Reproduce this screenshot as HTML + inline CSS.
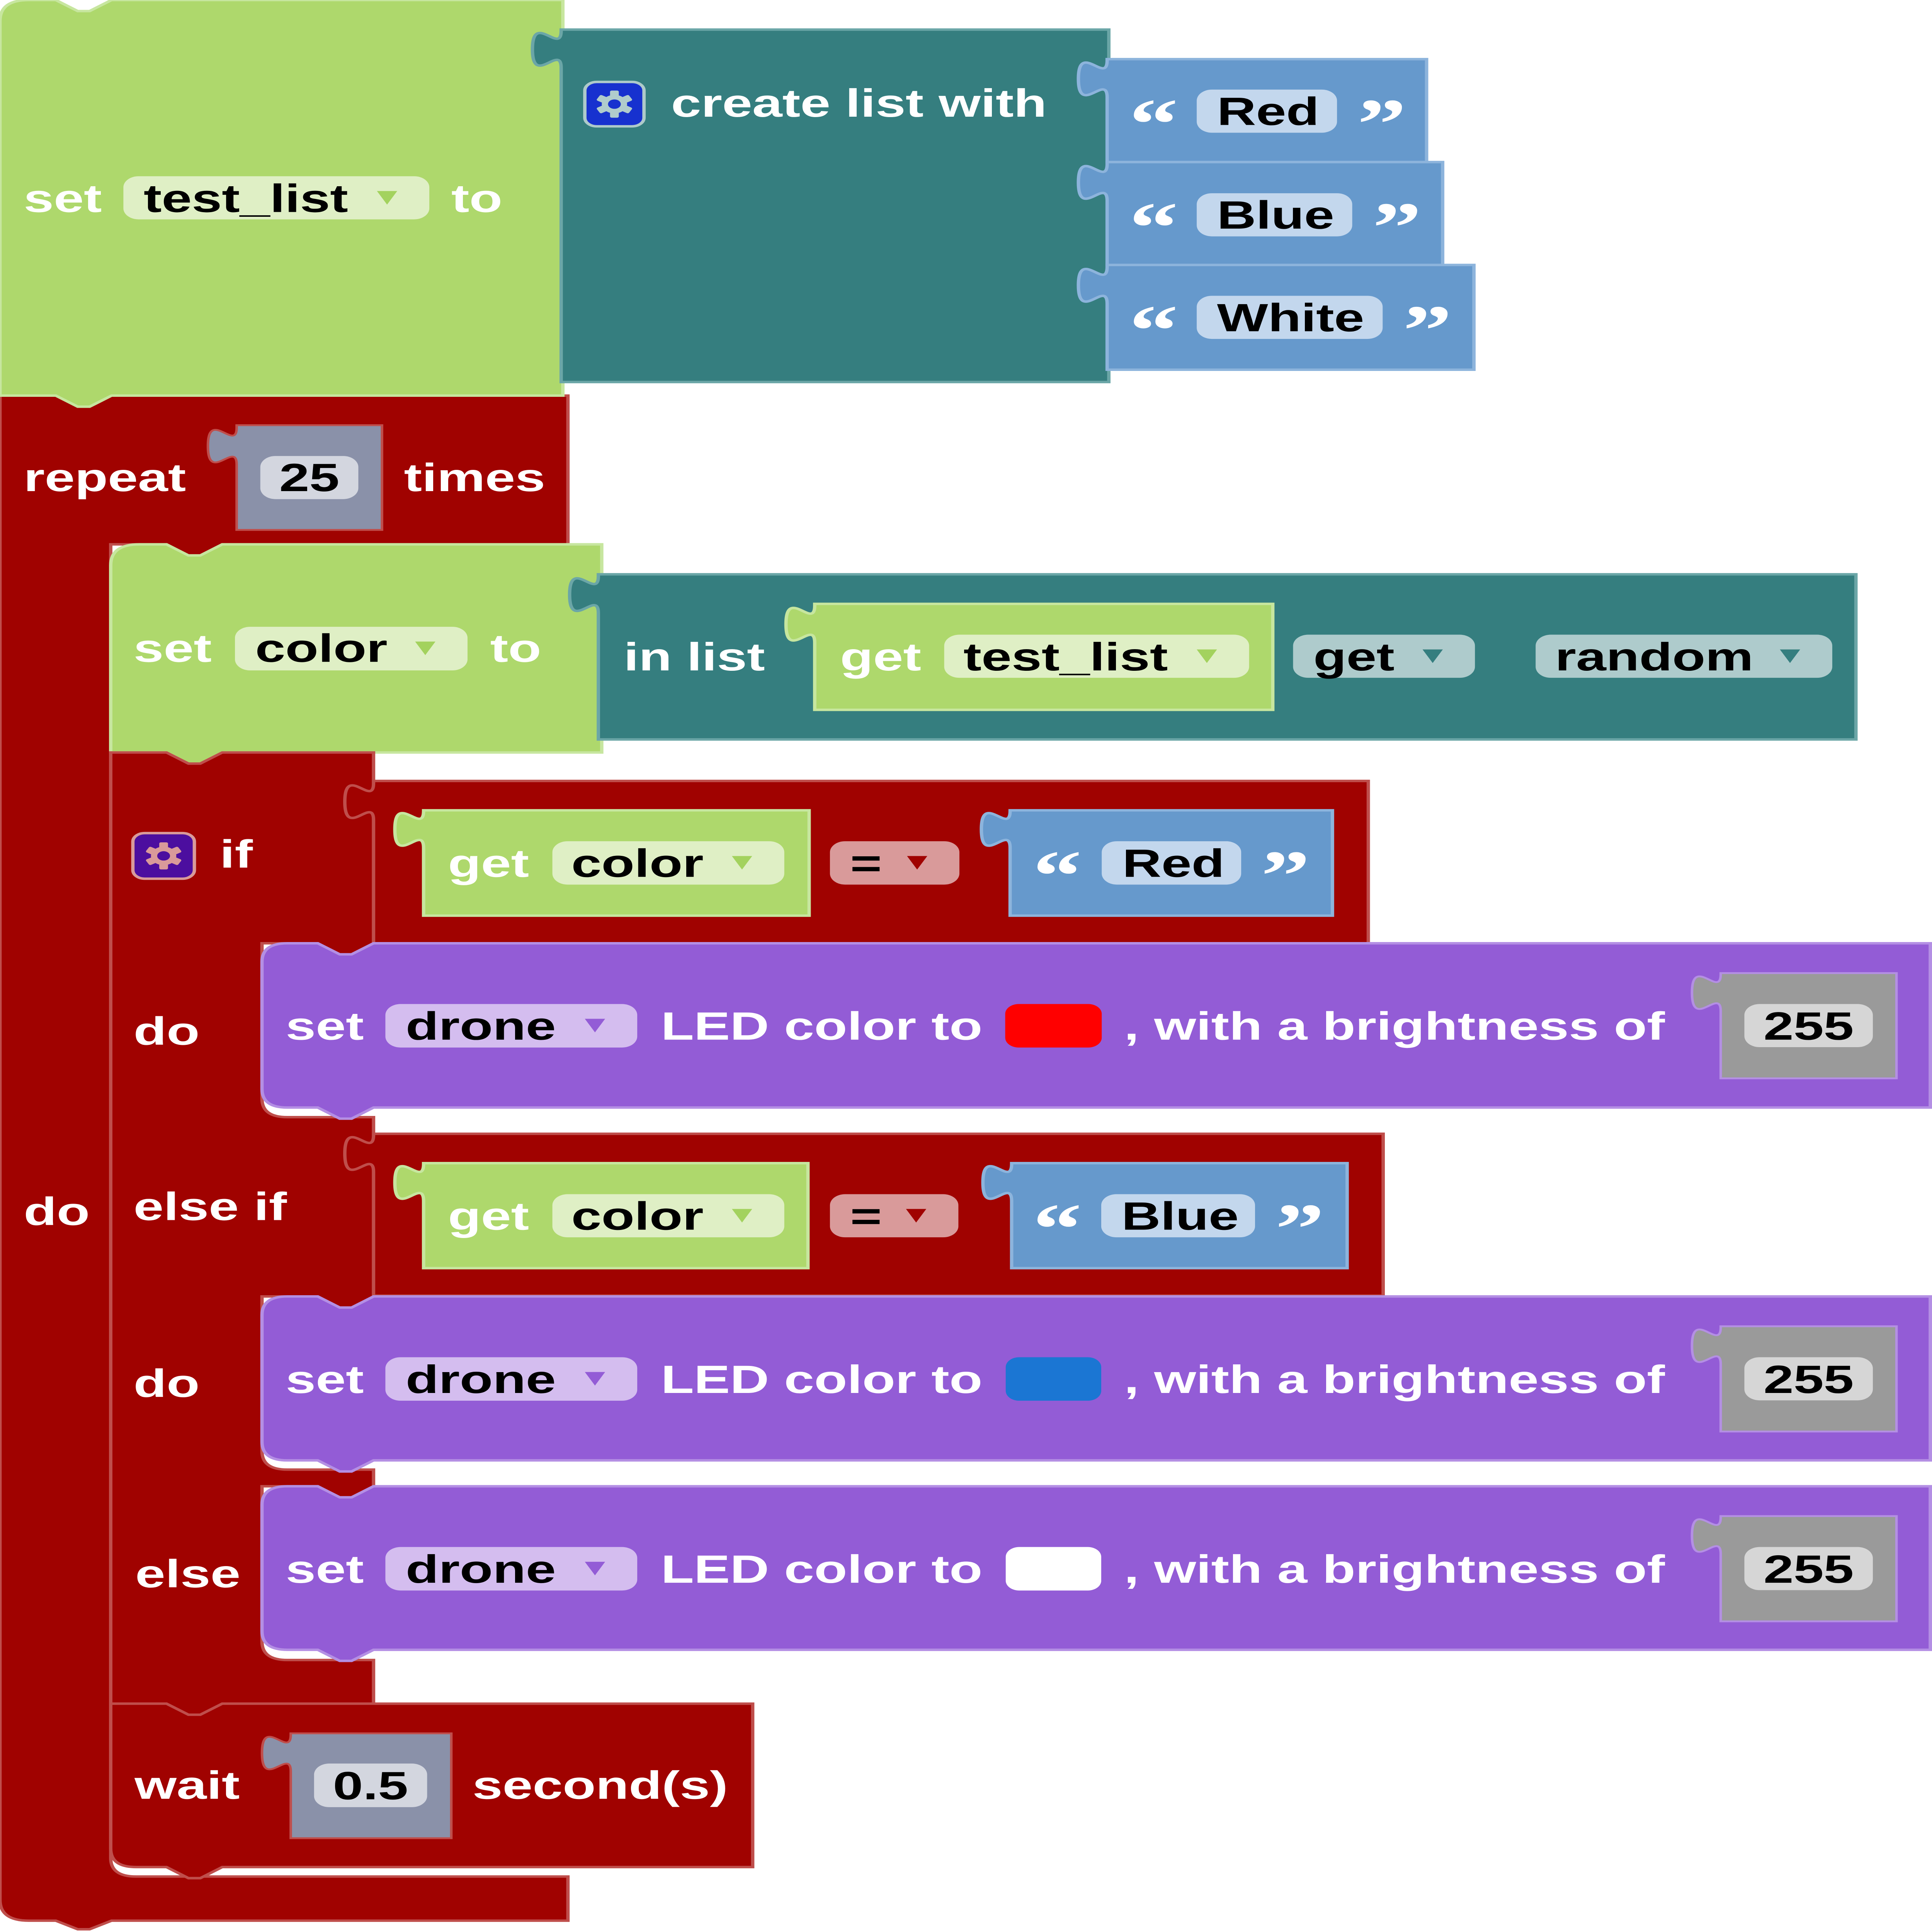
<!DOCTYPE html>
<html><head><meta charset="utf-8"><style>
html,body{margin:0;padding:0;background:#fff;width:100%;height:100%;overflow:hidden}
svg{display:block;width:100vw;height:100vh;position:absolute;left:0;top:0}
.t{font-family:"Liberation Sans",Arial,sans-serif;font-weight:bold;font-size:32px;fill:#fff}
.k{fill:#000}
.q{font-family:"Liberation Serif",serif;font-weight:bold;font-size:58px;fill:#fff}
.red{fill:#a00200;stroke:#bf4e4b;stroke-width:2}
.grn{fill:#aed86c;stroke:#c7e69f;stroke-width:2}
.tea{fill:#357e7f;stroke:#6ba6a7;stroke-width:2}
.blu{fill:#6699cc;stroke:#8db4dc;stroke-width:2}
.pur{fill:#935cd6;stroke:#b48fe4;stroke-width:2}
.nr{fill:#8a91a9;stroke:#bf4e4b;stroke-width:1.5}
.np{fill:#9a9a9a;stroke:#b48fe4;stroke-width:1.5}
</style></head><body>
<svg xmlns="http://www.w3.org/2000/svg" viewBox="0 0 1143 1567.7" preserveAspectRatio="none" overflow="hidden">
<rect x="0" y="0" width="1143" height="1567.7" fill="#fff"/>

<!-- repeat block -->
<path class="red" d="M0,321 H33 L46,330 H53 L66,321 H336 V441.7 H131.5 L118.5,450.7 H111.5 L98.5,441.7 H65.5 V1507.7 Q65.5,1522.7 80.5,1522.7 H336 V1558.5 H66 L53,1565.5 H46 L33,1558.5 H17 Q0,1558.5 0,1541.5 Z"/>

<!-- set test_list block -->
<path class="grn" d="M0,17 Q0,0 17,0 H33 L46,9 H53 L66,0 H333 V321 H66 L53,330 H46 L33,321 H0 Z"/>
<rect x="73" y="143" width="181" height="35" rx="9" fill="#dfefc5"/>
<polygon points="223,155 235,155 229,166" fill="#a3d25e"/>
<text class="t" x="14" y="172">set</text>
<text class="t k" x="85" y="172">test_list</text>
<text class="t" x="267" y="172">to</text>

<!-- create list with -->
<path class="tea" d="M332,24 V25 c0,20 -17,-16 -17,15 s17,-5 17,15 V310 H656 V24 Z"/>
<rect x="346" y="66.5" width="35" height="36" rx="7" fill="#1731cf" stroke="#aecaca" stroke-width="2"/>
<g transform="translate(363.5,84.5)" fill="#b0cccc">
<circle r="7.5"/>
<rect x="-2.6" y="-11" width="5.2" height="22" rx="1"/>
<rect x="-2.6" y="-11" width="5.2" height="22" rx="1" transform="rotate(60)"/>
<rect x="-2.6" y="-11" width="5.2" height="22" rx="1" transform="rotate(120)"/>
<circle r="3.8" fill="#1731cf"/>
</g>
<text class="t" x="397" y="94.7">create list with</text>

<path class="blu" d="M655,48 V49 c0,20 -17,-16 -17,15 s17,-5 17,15 V131.5 H844 V48 Z"/>
<path class="blu" d="M655,131.5 V133 c0,20 -17,-16 -17,15 s17,-5 17,15 V215 H853.5 V131.5 Z"/>
<path class="blu" d="M655,215 V216.5 c0,20 -17,-16 -17,15 s17,-5 17,15 V300 H872 V215 Z"/>
<rect x="708" y="72.7" width="83" height="35" rx="9" fill="#c3d7ed"/>
<rect x="708" y="156.8" width="92" height="35" rx="9" fill="#c3d7ed"/>
<rect x="708" y="240" width="110" height="35" rx="9" fill="#c3d7ed"/>
<text class="t k" x="720" y="101.4">Red</text>
<text class="t k" x="720" y="185.5">Blue</text>
<text class="t k" x="720" y="268.8">White</text>
<text class="q" x="668" y="120">“</text><text class="q" x="803" y="120">”</text>
<text class="q" x="668" y="204">“</text><text class="q" x="812" y="204">”</text>
<text class="q" x="668" y="287.5">“</text><text class="q" x="830" y="287.5">”</text>

<!-- repeat header -->
<path class="nr" d="M140,345 V347 c0,20 -17,-16 -17,15 s17,-5 17,15 V430 H226 V345 Z"/>
<rect x="154" y="370" width="58" height="35" rx="9" fill="#d3d6df"/>
<text class="t k" x="183" y="398.5" text-anchor="middle">25</text>
<text class="t" x="14" y="398.5">repeat</text>
<text class="t" x="239" y="398.5">times</text>
<text class="t" x="14" y="994">do</text>

<!-- set color block -->
<path class="grn" d="M65.5,458.7 Q65.5,441.7 82.5,441.7 H98.5 L111.5,450.7 H118.5 L131.5,441.7 H356 V610.6 H131.5 L118.5,619.6 H111.5 L98.5,610.6 H65.5 Z"/>
<rect x="139" y="508.6" width="137.6" height="35.4" rx="9" fill="#dfefc5"/>
<polygon points="245.6,520.6 257.6,520.6 251.6,531.6" fill="#a3d25e"/>
<text class="t" x="79" y="537">set</text>
<text class="t k" x="151" y="537">color</text>
<text class="t" x="290" y="537">to</text>

<!-- in list block -->
<path class="tea" d="M354,466 V467.5 c0,20 -17,-16 -17,15 s17,-5 17,15 V600 H1098 V466 Z"/>
<path class="grn" d="M482,490 V491.5 c0,20 -17,-16 -17,15 s17,-5 17,15 V576 H753 V490 Z"/>
<rect x="558.6" y="515" width="180.4" height="35" rx="9" fill="#dfefc5"/>
<polygon points="708,527 720,527 714,538" fill="#a3d25e"/>
<rect x="765" y="515" width="107.6" height="35" rx="9" fill="#aecbcc"/>
<polygon points="841.6,527 853.6,527 847.6,538" fill="#357e7f"/>
<rect x="908.5" y="515" width="175.5" height="35" rx="9" fill="#aecbcc"/>
<polygon points="1053,527 1065,527 1059,538" fill="#357e7f"/>
<text class="t" x="369" y="544">in list</text>
<text class="t" x="497" y="544">get</text>
<text class="t k" x="570" y="544">test_list</text>
<text class="t k" x="777" y="544">get</text>
<text class="t k" x="920" y="544">random</text>

<!-- if block -->
<path class="red" d="M65.5,610.6 H98.5 L111.5,619.6 H118.5 L131.5,610.6 H221 V765.4 L208,774.4 H201 L188,765.4 H155 V891.5 Q155,906.5 170,906.5 H221 V1052 L208,1061 H201 L188,1052 H155 V1177.5 Q155,1192.5 170,1192.5 H221 V1206 L208,1215 H201 L188,1206 H155 V1332 Q155,1347 170,1347 H221 V1382.4 H131.5 L118.5,1391.4 H111.5 L98.5,1382.4 H65.5 Z"/>
<rect x="78.6" y="676" width="36.4" height="37" rx="7" fill="#4c0e9f" stroke="#d99a9a" stroke-width="2"/>
<g transform="translate(96.8,694.5)" fill="#d99a9a">
<circle r="7.5"/>
<rect x="-2.6" y="-11" width="5.2" height="22" rx="1"/>
<rect x="-2.6" y="-11" width="5.2" height="22" rx="1" transform="rotate(60)"/>
<rect x="-2.6" y="-11" width="5.2" height="22" rx="1" transform="rotate(120)"/>
<circle r="3.8" fill="#4c0e9f"/>
</g>
<text class="t" x="130" y="704">if</text>
<text class="t" x="79" y="847.7">do</text>
<text class="t" x="79" y="990">else if</text>
<text class="t" x="79" y="1133.5">do</text>
<text class="t" x="80" y="1288">else</text>

<!-- compare 1 -->
<path class="red" d="M221,633.7 V635.5 c0,20 -17,-16 -17,15 s17,-5 17,15 V765.4 H809.5 V633.7 Z"/>
<path class="grn" d="M250.6,657.5 V658 c0,20 -17,-16 -17,15 s17,-5 17,15 V743 H478.7 V657.5 Z"/>
<rect x="326.8" y="682.6" width="137.2" height="35.2" rx="9" fill="#dfefc5"/>
<polygon points="433,694.6 445,694.6 439,705.6" fill="#a3d25e"/>
<rect x="491" y="682.6" width="76.6" height="35.2" rx="9" fill="#d99a9a"/>
<polygon points="536.6,694.6 548.6,694.6 542.6,705.6" fill="#a00200"/>
<path class="blu" d="M597.6,657.5 V658 c0,20 -17,-16 -17,15 s17,-5 17,15 V743 H788.3 V657.5 Z"/>
<rect x="651.8" y="682.6" width="82.5" height="35.2" rx="9" fill="#c3d7ed"/>
<text class="t" x="265" y="711.5">get</text>
<text class="t k" x="338" y="711.5">color</text>
<text class="t k" x="503" y="711.5">=</text>
<text class="t k" x="664" y="711.5">Red</text>
<text class="q" x="611" y="730">“</text><text class="q" x="746" y="730">”</text>

<!-- compare 2 -->
<path class="red" d="M221,920 V921 c0,20 -17,-16 -17,15 s17,-5 17,15 V1051.4 H818.3 V920 Z"/>
<path class="grn" d="M250.6,943.8 V944.5 c0,20 -17,-16 -17,15 s17,-5 17,15 V1029 H478 V943.8 Z"/>
<rect x="326.8" y="969" width="137.2" height="35" rx="9" fill="#dfefc5"/>
<polygon points="433,981 445,981 439,992" fill="#a3d25e"/>
<rect x="491" y="969" width="76" height="35" rx="9" fill="#d99a9a"/>
<polygon points="536,981 548,981 542,992" fill="#a00200"/>
<path class="blu" d="M598.5,943.8 V944.5 c0,20 -17,-16 -17,15 s17,-5 17,15 V1029 H797 V943.8 Z"/>
<rect x="651.5" y="969" width="91" height="35" rx="9" fill="#c3d7ed"/>
<text class="t" x="265" y="997.8">get</text>
<text class="t k" x="338" y="997.8">color</text>
<text class="t k" x="503" y="997.8">=</text>
<text class="t k" x="663.5" y="997.8">Blue</text>
<text class="q" x="611" y="1016.5">“</text><text class="q" x="754.5" y="1016.5">”</text>

<!-- purple 1 -->
<path class="pur" d="M155,780.4 Q155,765.4 170,765.4 H188 L201,774.4 H208 L221,765.4 H1142 V898.7 H221 L208,907.7 H201 L188,898.7 H170 Q155,898.7 155,883.7 Z"/>
<rect x="228" y="814.7" width="149" height="35.3" rx="9" fill="#d4bdef"/>
<polygon points="346,826.7 358,826.7 352,837.7" fill="#935cd6"/>
<rect x="594.7" y="814.7" width="57.1" height="35.3" rx="8" fill="#ff0000"/>
<path class="np" d="M1018,789.6 V790.5 c0,20 -17,-16 -17,15 s17,-5 17,15 V875 H1122 V789.6 Z"/>
<rect x="1032" y="814.7" width="76" height="35" rx="9" fill="#d6d6d6"/>
<text class="t" x="169" y="843.6">set</text>
<text class="t k" x="240" y="843.6">drone</text>
<text class="t" x="391" y="843.6">LED color to</text>
<text class="t" x="665" y="843.6">, with a brightness of</text>
<text class="t k" x="1070" y="843.6" text-anchor="middle">255</text>

<!-- purple 2 -->
<path class="pur" d="M155,1067 Q155,1052 170,1052 H188 L201,1061 H208 L221,1052 H1142 V1185 H221 L208,1194 H201 L188,1185 H170 Q155,1185 155,1170 Z"/>
<rect x="228" y="1101.3" width="149" height="35.3" rx="9" fill="#d4bdef"/>
<polygon points="346,1113.3 358,1113.3 352,1124.3" fill="#935cd6"/>
<rect x="595" y="1101.3" width="56.5" height="35.3" rx="8" fill="#1b76d3"/>
<path class="np" d="M1018,1076.2 V1077 c0,20 -17,-16 -17,15 s17,-5 17,15 V1161.6 H1122 V1076.2 Z"/>
<rect x="1032" y="1101.3" width="76" height="35" rx="9" fill="#d6d6d6"/>
<text class="t" x="169" y="1130.3">set</text>
<text class="t k" x="240" y="1130.3">drone</text>
<text class="t" x="391" y="1130.3">LED color to</text>
<text class="t" x="665" y="1130.3">, with a brightness of</text>
<text class="t k" x="1070" y="1130.3" text-anchor="middle">255</text>

<!-- purple 3 -->
<path class="pur" d="M155,1221 Q155,1206 170,1206 H188 L201,1215 H208 L221,1206 H1142 V1338.7 H221 L208,1347.7 H201 L188,1338.7 H170 Q155,1338.7 155,1323.7 Z"/>
<rect x="228" y="1255.3" width="149" height="35.3" rx="9" fill="#d4bdef"/>
<polygon points="346,1267.3 358,1267.3 352,1278.3" fill="#935cd6"/>
<rect x="595" y="1255.3" width="56.5" height="35.3" rx="8" fill="#ffffff"/>
<path class="np" d="M1018,1230.2 V1231 c0,20 -17,-16 -17,15 s17,-5 17,15 V1315.6 H1122 V1230.2 Z"/>
<rect x="1032" y="1255.3" width="76" height="35" rx="9" fill="#d6d6d6"/>
<text class="t" x="169" y="1284.3">set</text>
<text class="t k" x="240" y="1284.3">drone</text>
<text class="t" x="391" y="1284.3">LED color to</text>
<text class="t" x="665" y="1284.3">, with a brightness of</text>
<text class="t k" x="1070" y="1284.3" text-anchor="middle">255</text>

<!-- wait block -->
<path class="red" d="M65.5,1382.4 H98.5 L111.5,1391.4 H118.5 L131.5,1382.4 H445.3 V1515 H131.5 L118.5,1524 H111.5 L98.5,1515 H80.5 Q65.5,1515 65.5,1500 Z"/>
<path class="nr" d="M172,1406.5 V1407.5 c0,20 -17,-16 -17,15 s17,-5 17,15 V1491.6 H267 V1406.5 Z"/>
<rect x="185.8" y="1431" width="66.9" height="35.4" rx="9" fill="#d3d6df"/>
<text class="t k" x="219.2" y="1460" text-anchor="middle">0.5</text>
<text class="t" x="79.6" y="1459.6">wait</text>
<text class="t" x="279.5" y="1459.6">second(s)</text>
</svg>
</body></html>
